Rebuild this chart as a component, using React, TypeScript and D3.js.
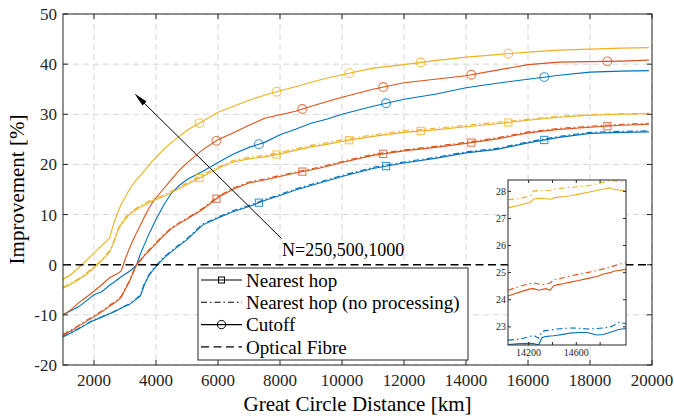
import React from "react";
import * as d3 from "d3";

// distance grid (km) shared by the main curves
const km = [1000, 1250, 1500, 1750, 2000, 2250, 2500, 2625, 2750, 2875, 3000, 3125, 3250, 3375, 3500, 3625, 3750, 3875, 4000, 4250, 4500, 4750, 5000, 5500, 6000, 6500, 7000, 7500, 8000, 8500, 9000, 9500, 10000, 11000, 12000, 13000, 14000, 15000, 16000, 17000, 18000, 19000, 19900];

// Nearest hop
const blueNearest = [-14.4, -13.6, -12.8, -11.9, -11.1, -10.5, -9.8, -9.5, -9.1, -8.7, -8.3, -8.0, -7.4, -6.8, -6.2, -4.0, -2.4, -1.3, -0.4, 1.3, 2.6, 3.8, 5.0, 7.9, 9.3, 10.6, 11.6, 12.8, 13.8, 14.9, 15.8, 16.7, 17.6, 19.2, 20.3, 21.2, 22.3, 23.0, 24.3, 25.4, 26.2, 26.4, 26.5];
const redNearest = [-14.0, -13.2, -12.3, -11.3, -10.4, -9.4, -8.3, -7.8, -7.2, -6.5, -5.0, -3.6, -1.8, 0.0, 0.8, 1.8, 2.6, 3.4, 4.2, 5.8, 7.2, 8.2, 9.1, 11.0, 13.4, 15.1, 16.3, 16.9, 17.6, 18.3, 18.9, 19.6, 20.4, 21.8, 22.7, 23.4, 24.2, 25.1, 26.3, 27.0, 27.4, 27.8, 28.0];
const yellowNearest = [-4.7, -3.9, -3.0, -1.9, -0.6, 0.8, 2.5, 4.2, 6.5, 8.0, 9.0, 9.9, 10.5, 11.0, 11.5, 11.9, 12.3, 12.7, 13.0, 13.6, 14.4, 15.2, 16.0, 17.6, 19.2, 20.5, 21.1, 21.5, 22.1, 22.8, 23.5, 24.0, 24.6, 25.6, 26.4, 26.9, 27.5, 28.1, 28.8, 29.4, 29.8, 30.0, 30.1];

// Nearest hop (no processing)
const blueRaw = [-14.3, -13.5, -12.7, -11.8, -11.0, -10.4, -9.7, -9.4, -9.0, -8.6, -8.2, -7.9, -7.3, -6.7, -6.0, -3.8, -2.2, -1.1, -0.2, 1.5, 2.8, 4.0, 5.2, 8.1, 9.5, 10.8, 11.8, 13.0, 14.0, 15.1, 16.0, 16.9, 17.8, 19.4, 20.5, 21.4, 22.5, 23.2, 24.5, 25.6, 26.4, 26.6, 26.7];
const redRaw = [-13.9, -13.0, -12.1, -11.1, -10.2, -9.2, -8.1, -7.6, -7.0, -6.3, -4.8, -3.4, -1.6, 0.2, 1.0, 2.0, 2.8, 3.6, 4.4, 6.0, 7.4, 8.4, 9.3, 11.2, 13.6, 15.3, 16.5, 17.1, 17.8, 18.5, 19.1, 19.8, 20.6, 22.0, 22.9, 23.6, 24.4, 25.3, 26.5, 27.2, 27.6, 28.0, 28.2];
const yellowRaw = [-4.5, -3.7, -2.8, -1.7, -0.4, 1.0, 2.8, 4.5, 6.8, 8.3, 9.3, 10.2, 10.8, 11.3, 11.8, 12.2, 12.6, 13.0, 13.3, 13.9, 14.7, 15.5, 16.3, 17.9, 19.5, 20.8, 21.4, 21.8, 22.4, 23.1, 23.8, 24.3, 24.9, 25.9, 26.7, 27.2, 27.8, 28.4, 29.0, 29.6, 29.9, 30.1, 30.2];

// Cutoff
const blueCutoff = [-10.0, -9.2, -8.4, -7.2, -6.0, -5.4, -4.1, -3.6, -3.0, -2.4, -1.9, -1.4, -0.8, 0.0, 2.2, 4.0, 5.8, 7.4, 9.0, 11.9, 14.3, 15.8, 17.0, 18.6, 20.4, 22.1, 23.4, 24.4, 25.9, 27.0, 28.2, 29.0, 30.0, 31.6, 33.0, 34.0, 35.3, 36.2, 37.0, 37.8, 38.4, 38.6, 38.7];
const redCutoff = [-10.0, -9.0, -7.6, -6.5, -5.3, -4.0, -2.6, -2.2, -1.8, -1.3, 1.0, 3.0, 4.8, 6.4, 7.9, 9.5, 11.0, 12.3, 13.3, 15.2, 17.0, 18.8, 20.3, 22.9, 24.9, 26.3, 27.8, 29.2, 29.9, 30.6, 31.6, 32.5, 33.4, 35.0, 36.3, 37.0, 37.7, 38.8, 39.9, 40.4, 40.5, 40.6, 40.8];
const yellowCutoff = [-2.9, -2.0, -0.6, 0.8, 2.3, 3.8, 5.3, 8.0, 10.2, 12.0, 13.4, 14.8, 16.0, 17.0, 17.8, 18.7, 19.6, 20.6, 21.4, 23.0, 24.4, 25.6, 26.8, 28.6, 30.4, 31.6, 32.8, 33.8, 34.7, 35.5, 36.4, 37.2, 37.9, 39.2, 39.9, 40.7, 41.4, 41.9, 42.4, 42.8, 43.0, 43.2, 43.3];

// marker distances per network size
const blueMarks = [7320, 11420, 16525];
const redMarks = [5950, 8720, 11330, 14170, 18560];
const yellowMarks = [5400, 7890, 10235, 12540, 15365];

// inset (zoom on 14000-15000 km)
const insetKm = [14027, 14130, 14214, 14242, 14284, 14312, 14340, 14382, 14410, 14438, 14500, 14550, 14620, 14690, 14773, 14829, 14885, 14913, 14955, 15015];
const insetYellow = [27.39, 27.5, 27.6, 27.72, 27.74, 27.74, 27.73, 27.71, 27.75, 27.78, 27.81, 27.84, 27.9, 27.96, 28.03, 28.09, 28.13, 28.08, 28.05, 28.02];
const insetYellowRaw = [27.69, 27.74, 27.84, 28.02, 28.02, 28.03, 28.03, 28.04, 28.08, 28.1, 28.13, 28.15, 28.17, 28.2, 28.28, 28.34, 28.4, 28.39, 28.37, 28.35];
const insetRed = [24.14, 24.29, 24.4, 24.41, 24.35, 24.38, 24.41, 24.36, 24.52, 24.55, 24.6, 24.65, 24.71, 24.78, 24.86, 24.95, 25.0, 25.05, 25.08, 25.12];
const insetRedRaw = [24.35, 24.5, 24.6, 24.62, 24.58, 24.56, 24.57, 24.62, 24.74, 24.76, 24.82, 24.88, 24.94, 25.0, 25.08, 25.14, 25.2, 25.25, 25.3, 25.37];
const insetBlue = [22.35, 22.38, 22.39, 22.38, 22.33, 22.6, 22.64, 22.66, 22.67, 22.69, 22.73, 22.77, 22.79, 22.79, 22.7, 22.72, 22.8, 22.84, 22.9, 22.94];
const insetBlueRaw = [22.51, 22.55, 22.65, 22.69, 22.58, 22.82, 22.86, 22.88, 22.9, 22.92, 22.94, 22.96, 22.95, 22.92, 22.94, 22.96, 23.0, 23.05, 23.17, 23.12];

const xTicks = [2000, 4000, 6000, 8000, 10000, 12000, 14000, 16000, 18000, 20000];
const yTicks = [-20, -10, 0, 10, 20, 30, 40, 50];
const insetXTicks = [14200, 14400, 14600, 14800];
const insetXLabels = [14200, 14600];
const insetYTicks = [23, 24, 25, 26, 27, 28];
const legendLabels = ["Nearest hop", "Nearest hop (no processing)", "Cutoff", "Optical Fibre"];

const BLUE = "#0072BD";
const RED = "#D95319";
const YELLOW = "#EDB120";
const AX = "#262626";
const FONT = "Liberation Serif, Times New Roman, serif";
const DASHDOT = "6,3,1.5,3";

const W = 674, H = 420;
const M = { left: 63, right: 652, top: 14, bottom: 365 };

function interp(xs: number[], ys: number[], x: number) {
  const i = Math.max(1, Math.min(xs.length - 1, d3.bisectLeft(xs, x)));
  const t = (x - xs[i - 1]) / (xs[i] - xs[i - 1]);
  return ys[i - 1] + t * (ys[i] - ys[i - 1]);
}

export default function App() {
  const x = d3.scaleLinear().domain([1000, 20000]).range([M.left, M.right]);
  const y = d3.scaleLinear().domain([-20, 50]).range([M.bottom, M.top]);
  const line = d3.line<number>().x((_, i) => x(km[i])).y((d) => y(d));

  const ix = d3.scaleLinear().domain([14027, 15017]).range([508, 626]);
  const iy = d3.scaleLinear().domain([22.33, 28.42]).range([345, 180]);
  const iline = d3.line<number>().x((_, i) => ix(insetKm[i])).y((d) => iy(d));

  const groups = [
    { c: BLUE, n: blueNearest, r: blueRaw, k: blueCutoff, m: blueMarks },
    { c: RED, n: redNearest, r: redRaw, k: redCutoff, m: redMarks },
    { c: YELLOW, n: yellowNearest, r: yellowRaw, k: yellowCutoff, m: yellowMarks },
  ];
  const insetSeries = [
    { c: BLUE, n: insetBlue, r: insetBlueRaw },
    { c: RED, n: insetRed, r: insetRedRaw },
    { c: YELLOW, n: insetYellow, r: insetYellowRaw },
  ];

  const lgX = 198, lgY = 268, lgW = 270, lgH = 92, rowH = 22.3;

  return (
    <svg width={W} height={H} style={{ position: "absolute", left: 0, top: 0, background: "#fff", fontFamily: FONT }}>
      <defs>
        <clipPath id="plot"><rect x={M.left} y={M.top} width={M.right - M.left} height={M.bottom - M.top} /></clipPath>
        <clipPath id="inset"><rect x={ix.range()[0]} y={iy.range()[1]} width={ix.range()[1] - ix.range()[0]} height={iy.range()[0] - iy.range()[1]} /></clipPath>
      </defs>

      {/* grid */}
      <g stroke="#d6d6d6" strokeDasharray="6,4" strokeWidth={1}>
        {xTicks.map((t) => <line key={"gx" + t} x1={x(t)} x2={x(t)} y1={M.top} y2={M.bottom} />)}
        {yTicks.filter((t) => t !== 0).map((t) => <line key={"gy" + t} x1={M.left} x2={M.right} y1={y(t)} y2={y(t)} />)}
      </g>

      {/* curves */}
      <g clipPath="url(#plot)" fill="none" strokeWidth={1.1}>
        {groups.map((g, gi) => (
          <g key={gi} stroke={g.c}>
            <path d={line(g.r) || ""} strokeDasharray={DASHDOT} />
            <path d={line(g.n) || ""} />
            <path d={line(g.k) || ""} />
            {g.m.map((mx) => {
              const px = x(mx), py = y(interp(km, g.n, mx));
              return <rect key={"s" + mx} x={px - 3.6} y={py - 3.6} width={7.2} height={7.2} strokeOpacity={0.75} />;
            })}
            {g.m.map((mx) => (
              <circle key={"c" + mx} cx={x(mx)} cy={y(interp(km, g.k, mx))} r={4.4} strokeOpacity={0.75} />
            ))}
          </g>
        ))}
        <line x1={M.left} x2={M.right} y1={y(0)} y2={y(0)} stroke="#000" strokeWidth={1.5} strokeDasharray="8,4.5" />
      </g>

      {/* axes box and ticks */}
      <g stroke={AX} strokeWidth={1}>
        <rect x={M.left} y={M.top} width={M.right - M.left} height={M.bottom - M.top} fill="none" />
        {xTicks.map((t) => (
          <g key={"tx" + t}>
            <line x1={x(t)} x2={x(t)} y1={M.bottom} y2={M.bottom - 5} />
            <line x1={x(t)} x2={x(t)} y1={M.top} y2={M.top + 5} />
          </g>
        ))}
        {yTicks.map((t) => (
          <g key={"ty" + t}>
            <line x1={M.left} x2={M.left + 5} y1={y(t)} y2={y(t)} />
            <line x1={M.right} x2={M.right - 5} y1={y(t)} y2={y(t)} />
          </g>
        ))}
      </g>
      <g fill={AX} fontSize={17}>
        {xTicks.map((t) => (
          <text key={"lx" + t} x={x(t)} y={M.bottom + 21} textAnchor="middle">{t}</text>
        ))}
        {yTicks.map((t) => (
          <text key={"ly" + t} x={M.left - 6} y={y(t)} dy="0.35em" textAnchor="end">{t}</text>
        ))}
      </g>
      <text x={(M.left + M.right) / 2} y={411} textAnchor="middle" fontSize={21} fill="#000">Great Circle Distance [km]</text>
      <text transform={`translate(17,${(M.top + M.bottom) / 2}) rotate(-90)`} dy="0.35em" textAnchor="middle" fontSize={21} fill="#000">Improvement [%]</text>

      {/* annotation */}
      <line x1={281.5} y1={238.5} x2={140} y2={99} stroke="#000" strokeWidth={1} />
      <path d="M134.5,93.5 L146.5,101.5 L142.5,105.5 Z" fill="#000" />
      <text x={282} y={256} fontSize={18} fill="#000">N=250,500,1000</text>

      {/* legend */}
      <g>
        <rect x={lgX} y={lgY} width={lgW} height={lgH} fill="#fff" stroke={AX} strokeWidth={1} />
        {legendLabels.map((lab, i) => {
          const cy = lgY + 12 + i * rowH;
          return (
            <g key={lab}>
              <line x1={lgX + 3} x2={lgX + 44} y1={cy} y2={cy} stroke="#000" strokeWidth={1.1}
                strokeDasharray={i === 1 ? DASHDOT : i === 3 ? "8,4.5" : undefined} />
              {i === 0 && <rect x={lgX + 20.5} y={cy - 3} width={6} height={6} fill="none" stroke="#000" />}
              {i === 2 && <circle cx={lgX + 23.5} cy={cy} r={4.2} fill="none" stroke="#000" />}
              <text x={lgX + 48} y={cy} dy="0.35em" fontSize={19} fill="#000">{lab}</text>
            </g>
          );
        })}
      </g>

      {/* inset */}
      <g>
        <rect x={ix.range()[0]} y={iy.range()[1]} width={ix.range()[1] - ix.range()[0]} height={iy.range()[0] - iy.range()[1]} fill="#fff" />
        <g clipPath="url(#inset)" fill="none" strokeWidth={1.1}>
          {insetSeries.map((s, i) => (
            <g key={i} stroke={s.c}>
              <path d={iline(s.r) || ""} strokeDasharray={DASHDOT} />
              <path d={iline(s.n) || ""} />
            </g>
          ))}
        </g>
        <g stroke={AX} strokeWidth={1}>
          <rect x={ix.range()[0]} y={iy.range()[1]} width={ix.range()[1] - ix.range()[0]} height={iy.range()[0] - iy.range()[1]} fill="none" />
          {insetXTicks.map((t) => (
            <g key={"itx" + t}>
              <line x1={ix(t)} x2={ix(t)} y1={iy.range()[0]} y2={iy.range()[0] - 3} />
              <line x1={ix(t)} x2={ix(t)} y1={iy.range()[1]} y2={iy.range()[1] + 3} />
            </g>
          ))}
          {insetYTicks.map((t) => (
            <g key={"ity" + t}>
              <line x1={ix.range()[0]} x2={ix.range()[0] + 3} y1={iy(t)} y2={iy(t)} />
              <line x1={ix.range()[1]} x2={ix.range()[1] - 3} y1={iy(t)} y2={iy(t)} />
            </g>
          ))}
        </g>
        <g fill={AX} fontSize={10}>
          {insetXLabels.map((t) => (
            <text key={"ilx" + t} x={ix(t)} y={iy.range()[0] + 11} textAnchor="middle">{t}</text>
          ))}
          {insetYTicks.map((t) => (
            <text key={"ily" + t} x={ix.range()[0] - 2} y={iy(t)} dy="0.35em" textAnchor="end">{t}</text>
          ))}
        </g>
      </g>
    </svg>
  );
}
